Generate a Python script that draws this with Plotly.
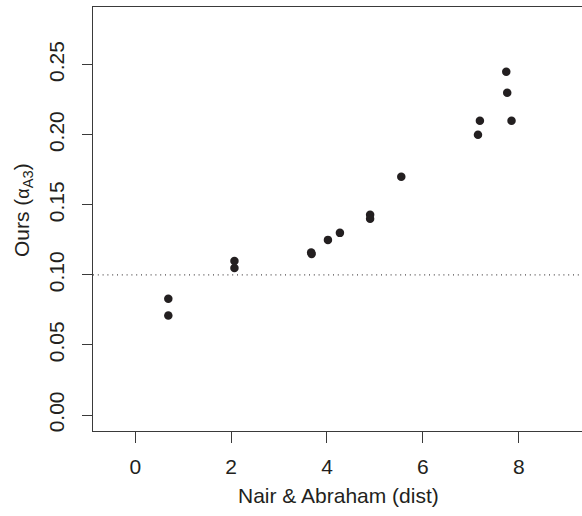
import plotly.graph_objects as go

# Data
nair_abraham = [0.69, 0.69, 2.07, 2.07, 3.67, 3.68, 4.02, 4.27, 4.90, 4.90, 5.55,
                7.15, 7.19, 7.74, 7.76, 7.85]
ours_alpha = [0.083, 0.071, 0.110, 0.105, 0.116, 0.115, 0.125, 0.130, 0.143, 0.140,
              0.170, 0.200, 0.210, 0.245, 0.230, 0.210]
x_ticks = [0, 2, 4, 6, 8]
y_ticks = [0.00, 0.05, 0.10, 0.15, 0.20, 0.25]
y_tick_labels = ["0.00", "0.05", "0.10", "0.15", "0.20", "0.25"]
ref_line = 0.10

INK = "#231f20"
AX = "#3a3a3a"
FONT = "Liberation Sans, Arial, sans-serif"

fig = go.Figure()
fig.add_trace(go.Scatter(
    x=nair_abraham, y=ours_alpha, mode="markers",
    marker=dict(size=8.5, color=INK, line=dict(width=0)),
    showlegend=False, hoverinfo="skip",
))

fig.add_shape(type="line", xref="paper", yref="y", x0=0, x1=1, y0=ref_line, y1=ref_line,
              line=dict(color=INK, width=1, dash="1px,3.8px"))

fig.update_layout(
    width=582, height=516,
    margin=dict(l=93, r=0, t=7, b=85),
    paper_bgcolor="white", plot_bgcolor="white",
    font=dict(family=FONT, color=INK),
    xaxis=dict(
        range=[-0.881, 9.32], tickvals=x_ticks, ticks="outside", ticklen=11,
        tickcolor=AX, tickwidth=1, showline=True, linecolor=AX, linewidth=1,
        mirror=True, showgrid=False, zeroline=False,
        tickfont=dict(size=21, family=FONT, color=INK), ticklabelstandoff=6,
    ),
    yaxis=dict(
        range=[-0.0114, 0.2912], tickvals=y_ticks, ticktext=y_tick_labels,
        ticks="outside", ticklen=10, tickcolor=AX, tickwidth=1,
        showline=True, linecolor=AX, linewidth=1, mirror=False,
        showgrid=False, zeroline=False, tickangle=-90,
        tickfont=dict(size=21, family=FONT, color=INK), ticklabelstandoff=10,
    ),
    annotations=[
        dict(text="Nair &amp; Abraham (dist)", xref="paper", yref="paper",
             x=(338.5 - 93) / (582 - 93), y=-(495 - 431) / (431 - 7), showarrow=False,
             xanchor="center", yanchor="middle", font=dict(size=21, family=FONT, color=INK)),
        dict(text="Ours (<span style='font-size:18px'>α</span><sub>A3</sub>)",
             xref="paper", yref="paper",
             x=-(93 - 23) / (582 - 93), y=(431 - 210) / (431 - 7), showarrow=False,
             textangle=-90, xanchor="center", yanchor="middle",
             font=dict(size=21, family=FONT, color=INK)),
    ],
)

fig.write_html("out.html")
